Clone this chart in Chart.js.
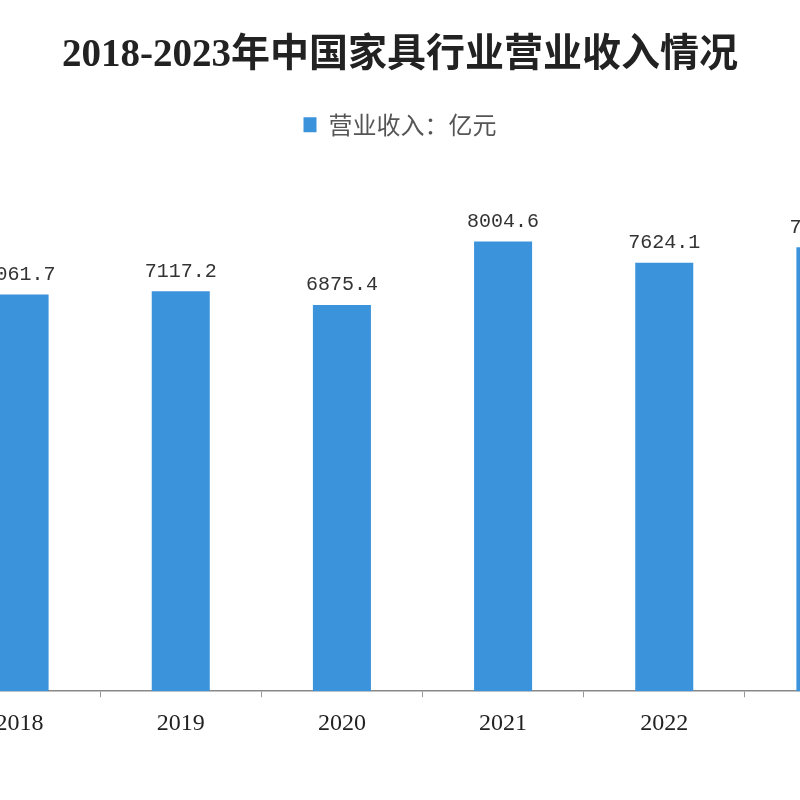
<!DOCTYPE html>
<html>
<head>
<meta charset="utf-8">
<script src="https://cdn.jsdelivr.net/npm/chart.js@4"></script>
<style>
  html, body { margin: 0; padding: 0; background: #fff; overflow: hidden; }
  body { width: 800px; height: 800px; position: relative; }
  #chart { position: absolute; left: -106px; top: 0; }
</style>
</head>
<body>
<canvas id="chart" width="1012" height="800"></canvas>
<script>
const years = ["2018", "2019", "2020", "2021", "2022", "2023"];
const revenue = [7061.7, 7117.2, 6875.4, 8004.6, 7624.1, 7900.0];
const seriesLabel = "营业收入：亿元";
const titleText = "2018-2023年中国家具行业营业收入情况";

const BAR_COLOR = "#3b93dc";

// value above each bar, placed from the bar elements themselves
const valueLabels = {
  id: "valueLabels",
  afterDatasetsDraw(chart) {
    const { ctx } = chart;
    const meta = chart.getDatasetMeta(0);
    ctx.save();
    ctx.font = "20px 'Liberation Mono', 'DejaVu Sans Mono', monospace";
    ctx.fillStyle = "#333";
    ctx.textAlign = "center";
    ctx.textBaseline = "bottom";
    meta.data.forEach((bar, i) => {
      ctx.fillText(revenue[i].toFixed(1), bar.x, bar.y - 10);
    });
    ctx.restore();
  },
};

new Chart(document.getElementById("chart").getContext("2d"), {
  type: "bar",
  data: {
    labels: years,
    datasets: [
      {
        label: seriesLabel,
        data: revenue,
        backgroundColor: BAR_COLOR,
        categoryPercentage: 1,
        barPercentage: 0.36,
      },
    ],
  },
  options: {
    responsive: false,
    animation: false,
    layout: { padding: { left: 0, right: 0, top: 0, bottom: 50 } },
    plugins: {
      title: {
        display: true,
        text: titleText,
        color: "#222",
        font: { family: "'Liberation Serif', 'Noto Sans CJK SC', serif", size: 39, weight: "bold" },
        padding: { top: 33, bottom: 23 },
      },
      legend: {
        display: true,
        labels: {
          color: "#555",
          boxWidth: 13,
          boxHeight: 15,
          font: { family: "'Noto Sans CJK SC', sans-serif", size: 24 },
        },
      },
      tooltip: { enabled: false },
    },
    scales: {
      x: {
        offset: true,
        grid: {
          offset: true,
          drawOnChartArea: false,
          drawTicks: true,
          tickLength: 6,
          color: "#999",
        },
        border: { display: true, color: "#888", width: 1.5 },
        ticks: {
          color: "#222",
          padding: 12,
          font: { family: "'Liberation Serif', serif", size: 24 },
        },
      },
      y: {
        display: true,
        min: 0,
        max: 9690,
        ticks: { display: false },
        grid: { display: false },
        border: { display: false },
        afterFit: (scale) => {
          scale.width = 45;
        },
      },
    },
  },
  plugins: [valueLabels],
});
</script>
</body>
</html>
